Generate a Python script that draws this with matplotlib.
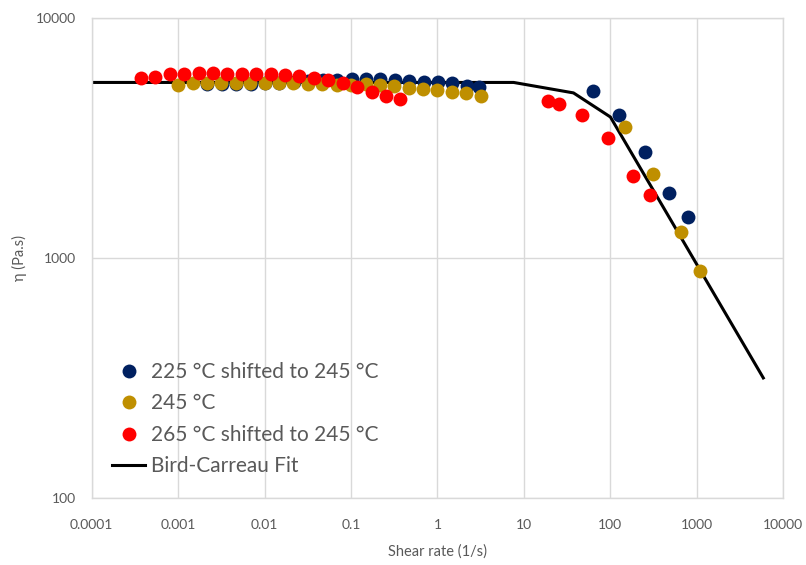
import matplotlib
matplotlib.use("Agg")
import matplotlib.pyplot as plt

plt.rcParams['font.family'] = ['Lato', 'DejaVu Sans']

# ---- data ----
# 225 °C shifted to 245 °C
x_225 = [0.00218, 0.00320, 0.00470, 0.00690, 0.01013, 0.01487, 0.02183,
         0.03205, 0.04705, 0.06906, 0.1014, 0.1488, 0.2185, 0.3207, 0.4708,
         0.6911, 1.0145, 1.489, 2.186, 3.00,
         63.4, 124.7, 251, 476, 790]
eta_225 = [5300, 5300, 5310, 5324, 5350, 5376, 5428, 5480, 5506, 5533,
           5570, 5570, 5570, 5533, 5495, 5443, 5412, 5361, 5239, 5160,
           4980, 3955, 2765, 1866, 1486]

# 245 °C
x_245 = [0.001, 0.00147, 0.00215, 0.00316, 0.00464, 0.00681, 0.01, 0.0147,
         0.0215, 0.0316, 0.0464, 0.0681, 0.1, 0.147, 0.215, 0.316, 0.464,
         0.681, 1.0, 1.47, 2.15, 3.16,
         148.7, 311, 656, 1089]
eta_245 = [5274, 5350, 5350, 5350, 5350, 5350, 5350, 5350, 5350, 5324,
           5309, 5248, 5258, 5300, 5258, 5223, 5139, 5090, 5026, 4946,
           4870, 4760,
           3515, 2245, 1279, 883]

# 265 °C shifted to 245 °C
x_265 = [0.000372, 0.000546, 0.000800, 0.001175, 0.00173, 0.00253, 0.00372,
         0.00546, 0.00800, 0.01175, 0.0173, 0.0253, 0.0372, 0.0546, 0.0800,
         0.1175, 0.173, 0.253, 0.372,
         18.8, 25.4, 46.6, 93.1, 184, 287]
eta_265 = [5623, 5711, 5845, 5861, 5900, 5900, 5861, 5861, 5861, 5845,
           5804, 5765, 5656, 5533, 5392, 5188, 4931, 4760, 4624,
           4523, 4382, 3955, 3181, 2202, 1830]

# Bird-Carreau fit (vertices of the drawn line)
x_fit = [0.0001, 7.6, 37.4, 100, 5870]
eta_fit = [5400, 5400, 4884, 3875, 316]

x_ticks = [0.0001, 0.001, 0.01, 0.1, 1, 10, 100, 1000, 10000]
x_tick_labels = ['0.0001', '0.001', '0.01', '0.1', '1', '10', '100', '1000', '10000']
y_ticks = [100, 1000, 10000]
y_tick_labels = ['100', '1000', '10000']

labels = ['225 °C shifted to 245 °C', '245 °C', '265 °C shifted to 245 °C', 'Bird-Carreau Fit']
colors = ['#002060', '#BF8F00', '#FF0000', '#000000']

# ---- figure ----
fig = plt.figure(figsize=(8.06, 5.65), dpi=100)
ax = fig.add_axes([91.7/806, 1-497.7/565, (783.3-91.7)/806, (497.7-18.3)/565])

ms = 10
ax.plot(x_225, eta_225, linestyle='none', marker='o', ms=ms, mew=0,
        color=colors[0], label=labels[0], zorder=3)
ax.plot(x_245, eta_245, linestyle='none', marker='o', ms=ms, mew=0,
        color=colors[1], label=labels[1], zorder=4)
ax.plot(x_265, eta_265, linestyle='none', marker='o', ms=ms, mew=0,
        color=colors[2], label=labels[2], zorder=5)
ax.plot(x_fit, eta_fit, color=colors[3], lw=2.2, label=labels[3], zorder=2)

ax.set_xscale('log')
ax.set_yscale('log')
ax.set_xlim(1e-4, 1e4)
ax.set_ylim(100, 10000)
ax.set_xticks(x_ticks)
ax.set_xticklabels(x_tick_labels)
ax.set_yticks(y_ticks)
ax.set_yticklabels(y_tick_labels)
ax.minorticks_off()

grey = '#595959'
ax.tick_params(axis='both', length=0, labelsize=10, labelcolor=grey)
ax.tick_params(axis='x', pad=15)
ax.tick_params(axis='y', pad=11)
ax.grid(True, which='major', color='#D9D9D9', lw=1)
ax.set_axisbelow(True)
for s in ax.spines.values():
    s.set_color('#D9D9D9')
    s.set_linewidth(1)

ax.set_xlabel('Shear rate (1/s)', fontsize=10.5, color=grey, labelpad=10)
ax.set_ylabel('η (Pa.s)', fontsize=10.5, color=grey, labelpad=7)

leg = ax.legend(loc='upper left', bbox_to_anchor=(112/806, 1-362/565),
                bbox_transform=fig.transFigure, frameon=False,
                fontsize=15, handlelength=1.6, handletextpad=0.25,
                labelspacing=0.55, borderpad=0, borderaxespad=0)
for t in leg.get_texts():
    t.set_color(grey)

fig.savefig('out.png', dpi=100)
